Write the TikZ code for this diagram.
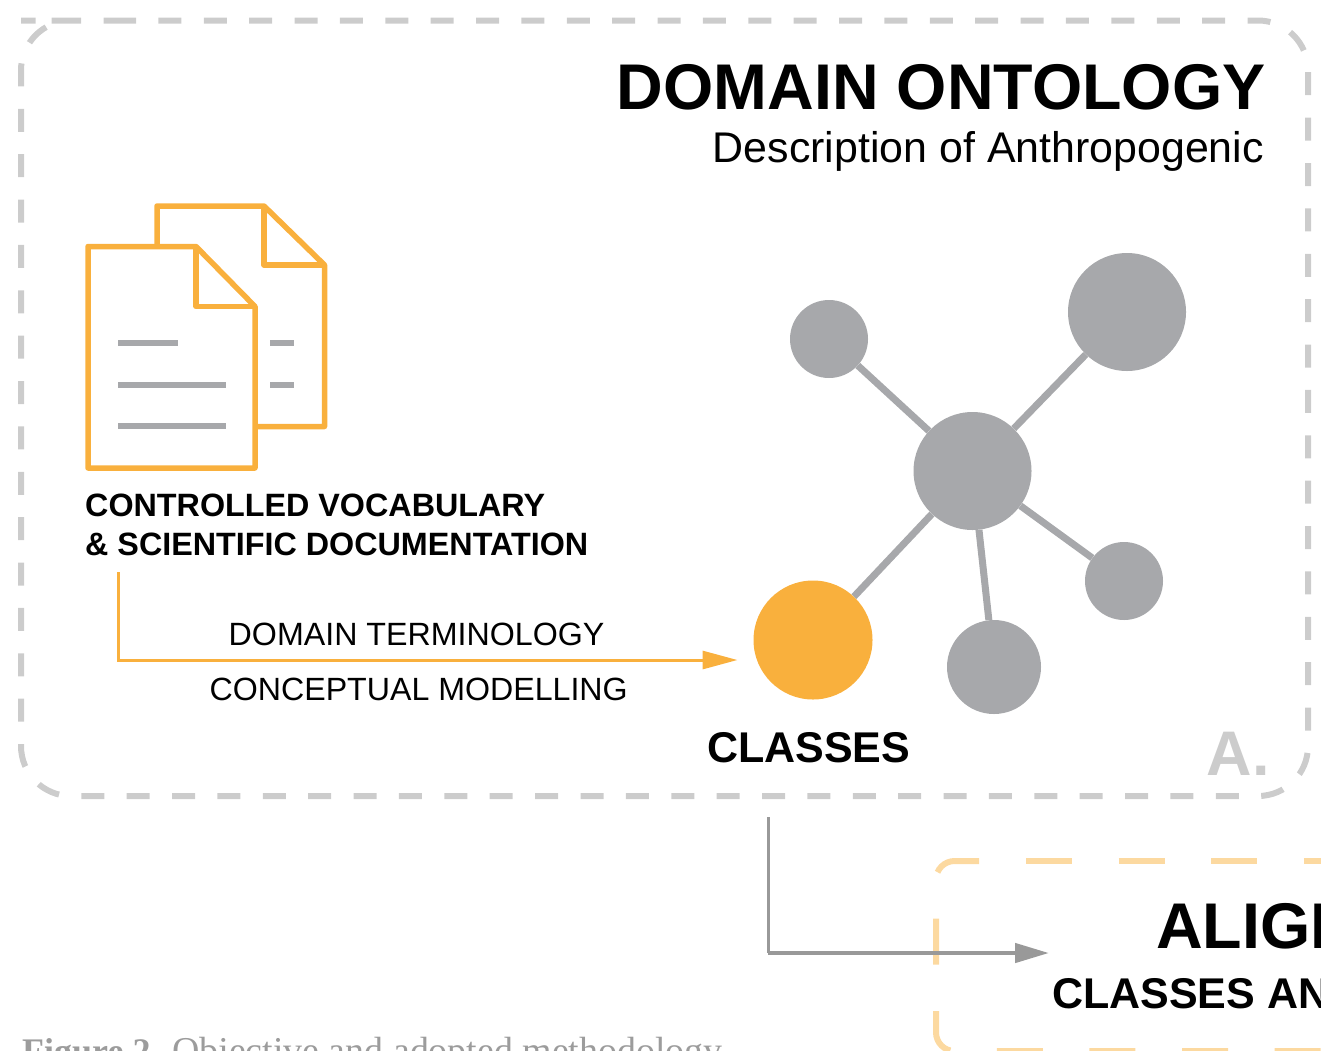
\documentclass[tikz,border=0pt]{standalone}
\usepackage{fontspec}
\setmainfont{Liberation Sans}
\newfontfamily\captionfont{Liberation Serif}
\usepackage{tikz}
\usetikzlibrary{calc,positioning,arrows.meta}
\definecolor{docorange}{HTML}{F9B03D}
\definecolor{paleorange}{HTML}{FCD9A0}
\definecolor{linegray}{HTML}{A7A8AB}
\definecolor{boxgray}{HTML}{CCCCCC}
\definecolor{arrowgray}{HTML}{999999}
\definecolor{captiongray}{HTML}{9C9C9C}
\tikzset{
	ball/.style={shape=circle,fill=linegray,inner sep=0pt},
	spoke/.style={draw=linegray,line width=7pt},
	label/.style={inner sep=0pt,text=black},
	sheet/.style={draw=docorange,line width=5.5pt,line join=round},
	rule/.style={draw=linegray,line width=6pt},
	graybox/.style={draw=boxgray,line width=6pt,rounded corners=50pt,dash pattern=on 23pt off 22.38pt},
	orangebox/.style={draw=paleorange,line width=6pt,rounded corners=18.6pt,dash pattern=on 46pt off 46.6pt}
}
\begin{document}
\begin{tikzpicture}[x=1pt,y=-1pt]
		\useasboundingbox (0,0) rectangle (1321,1050);
		\clip (0,0) rectangle (1321,1050);
		% boxes
		\path[graybox,dash phase=8pt]
			(71,20.5) -- (1308,20.5) -- (1308,796) -- (21,796) -- (21,20.5) -- cycle;
		\path[orangebox] (1026,861) -- (1400,861);
		\path[orangebox] (979,861) -- (936,861) -- (936,1051) -- (1400,1051);
		% documents
		\draw[sheet] (157,246) -- (157,206) -- (264,206) -- (324.5,265) -- (324.5,426.5) -- (255,426.5);
		\draw[sheet] (264,206) -- (264,265) -- (324.5,265);
		\draw[sheet] (88,468) -- (88,246.5) -- (196,246.5) -- (255,306.5) -- (255,468) -- cycle;
		\draw[sheet] (196,246.5) -- (196,306.5) -- (255,306.5);
		\draw[rule] (118,343) -- (178,343);
		\draw[rule] (118,385) -- (226,385);
		\draw[rule] (118,426) -- (226,426);
		\draw[rule] (270,343) -- (294,343);
		\draw[rule] (270,385) -- (294,385);
		% network
		\node(hub) [ball,minimum size=118pt] at (972.5,471) {};
		\node(upright) [ball,minimum size=118pt] at (1127,312) {};
		\node(upleft) [ball,minimum size=78pt] at (829,339) {};
		\node(right) [ball,minimum size=78pt] at (1124,581) {};
		\node(down) [ball,minimum size=94pt] at (994,667) {};
		\node(classes) [ball,fill=docorange,minimum size=119pt] at (813,640) {};
		\path[spoke]
			(hub) edge (upright)
			(hub) edge (upleft)
			(hub) edge (right)
			(hub) edge (down)
			(hub) edge (classes);
		% texts
		\node(title) [label,anchor=base east,font=\fontsize{64.6}{66}\selectfont\bfseries] at (1265.5,109) {DOMAIN ONTOLOGY};
		\node(subtitle) [label,anchor=base east,font=\fontsize{42.9}{44}\selectfont] at (1264,162) {Description of Anthropogenic};
		\node(vocab) [label,anchor=base west,font=\fontsize{32.3}{33}\selectfont\bfseries] at (85,516) {CONTROLLED VOCABULARY};
		\node(docs) [label,anchor=base west,font=\fontsize{32.3}{33}\selectfont\bfseries] at (85,555) {\& SCIENTIFIC DOCUMENTATION};
		\node(terms) [label,anchor=base west,font=\fontsize{32.2}{33}\selectfont] at (228.5,645) {DOMAIN TERMINOLOGY};
		\node(model) [label,anchor=base west,font=\fontsize{32.15}{33}\selectfont] at (209.5,700) {CONCEPTUAL MODELLING};
		\node(classlabel) [label,anchor=base west,font=\fontsize{43}{44}\selectfont\bfseries] at (707,762) {CLASSES};
		\node(mark) [label,text=boxgray,anchor=base east,font=\fontsize{63}{66}\selectfont\bfseries] at (1270,775) {A.};
		\node(align) [label,anchor=base west,font=\fontsize{64.6}{66}\selectfont\bfseries] at (1156,948) {ALIGN};
		\node(alignsub) [label,anchor=base west,font=\fontsize{43}{44}\selectfont\bfseries] at (1052,1008) {CLASSES AN};
		\node(fig) [label,text=captiongray,anchor=base west,font=\fontsize{37.9}{38}\selectfont\captionfont] at (22,1063) {{\fontsize{36}{38}\selectfont\bfseries Figure 2.} Objective and adopted methodology};
		% arrows
		\coordinate(vocabend) at (118,572);
		\coordinate(vocabtip) at (737.5,660);
		\draw[docorange,line width=3pt,-{Triangle[length=35pt,width=18pt]}]
			(vocabend) |- (vocabtip);
		\coordinate(ontoend) at (768,817);
		\coordinate(ontotip) at (1049,953);
		\coordinate(ontocorner) at (768,953);
		\draw[arrowgray,line width=3pt] (ontoend) -- (ontocorner);
		\draw[arrowgray,line width=4.5pt,-{Triangle[length=34pt,width=19pt]}] (ontocorner) -- (ontotip);
	\end{tikzpicture}
\end{document}
